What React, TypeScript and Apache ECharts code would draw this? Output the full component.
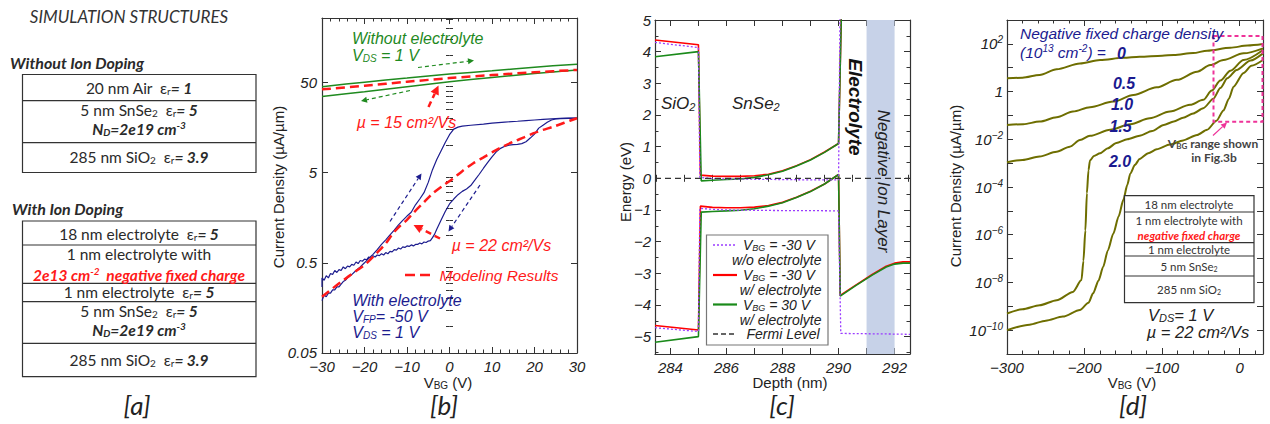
import React, { useEffect, useRef } from 'react';
import * as echarts from 'echarts';

// ---------------- Panel [b] data ----------------
const bV = [-30, -20, -10, 0, 10, 20, 30];
const bGreenUp = [45, 50.5, 56, 62, 67.5, 74, 80];
const bGreenDown = [35, 39.5, 45, 51, 57, 63, 69];
const bModel15 = [42, 46, 51, 56, 60.5, 65, 69];

const bFwd: [number, number][] = [
  [-30, 0.19], [-29.5, 0.22], [-29, 0.21], [-28.5, 0.23], [-28, 0.23], [-27.5, 0.25], [-27, 0.25], [-26.5, 0.27],
  [-26, 0.27], [-25.5, 0.29], [-25, 0.31], [-24.5, 0.32], [-24, 0.34], [-23, 0.37], [-22, 0.41], [-21, 0.45], [-20, 0.5],
  [-19, 0.56], [-18, 0.62], [-17, 0.7], [-16, 0.8], [-15, 0.9], [-14, 1.02], [-13, 1.15], [-12, 1.32],
  [-11, 1.48], [-10, 1.65], [-9, 1.82], [-8, 2.2], [-7, 2.55], [-6, 3.0], [-5, 3.9], [-4, 5.4], [-3, 7.0],
  [-2, 8.7], [-1, 10.8], [0, 13.2], [1, 15.2], [2, 16.0], [3, 16.4], [5, 16.8], [8, 17.3], [10, 17.7],
  [13, 18.2], [16, 18.6], [18, 18.9], [20, 19.2], [22, 19.5], [24, 19.8], [26, 20.0], [28, 20.1], [30, 20.2],
];
const bBwd: [number, number][] = [
  [30, 20.1], [28, 20.0], [26, 19.9], [25, 19.7], [24, 19.2], [23, 18.1], [22, 16.8], [21, 15.6], [20, 13.4],
  [19, 12.1], [18, 11.0], [17, 10.5], [16, 10.3], [15, 10.25], [14, 10.1], [13, 9.8], [12, 9.3], [11, 8.5],
  [10, 7.5], [9, 6.5], [8, 5.6], [7, 4.8], [6, 4.15], [5, 3.6], [4, 3.3], [3, 3.1], [2, 2.85], [1, 2.55],
  [0, 2.25], [-1, 1.85], [-2, 1.48], [-3, 1.18], [-3.5, 1.04], [-4, 0.95], [-4.5, 0.88], [-5, 0.87],
  [-5.5, 0.84], [-6, 0.85], [-6.5, 0.81], [-7, 0.83], [-7.5, 0.8], [-8, 0.8], [-8.5, 0.77], [-9, 0.79],
  [-9.5, 0.76], [-10, 0.77], [-10.5, 0.74], [-11, 0.75], [-11.5, 0.71], [-12, 0.73], [-12.5, 0.69], [-13, 0.7],
  [-13.5, 0.66], [-14, 0.67], [-14.5, 0.63], [-15, 0.65], [-15.5, 0.61], [-16, 0.63], [-16.5, 0.6], [-17, 0.61],
  [-17.5, 0.58], [-18, 0.6], [-18.5, 0.56], [-19, 0.58], [-19.5, 0.54], [-20, 0.55], [-20.5, 0.52], [-21, 0.53],
  [-21.5, 0.49], [-22, 0.51], [-22.5, 0.47], [-23, 0.48], [-23.5, 0.45], [-24, 0.46], [-24.5, 0.43], [-25, 0.45],
  [-25.5, 0.41], [-26, 0.42], [-26.5, 0.39], [-27, 0.41], [-27.5, 0.37], [-28, 0.38], [-28.5, 0.34], [-29, 0.36],
  [-29.5, 0.32], [-30, 0.34], [-30, 0.27],
];
const bModel22: [number, number][] = [
  [-30, 0.21], [-27.5, 0.26], [-25, 0.32], [-22.5, 0.39], [-19.6, 0.49], [-17, 0.65], [-15, 0.82], [-13.3, 1.06],
  [-11.5, 1.3], [-10, 1.5], [-8.6, 1.77], [-6, 2.35], [-3.9, 2.95], [-1.5, 3.6], [0.9, 4.33], [3, 5.2],
  [5.6, 6.36], [8, 7.4], [10.3, 8.55], [12.5, 9.7], [15, 11.0], [17.5, 12.3], [19.8, 13.7], [22, 14.9],
  [24.5, 16.2], [27, 17.9], [30, 20.1],
];

// ---------------- Panel [c] data (depth nm, energy eV) ----------------
const cRedCB: [number, number][] = [
  [283.45, 4.37], [285.0, 4.22], [285.07, 0.1], [285.5, 0.07], [286, 0.06], [286.5, 0.06], [287, 0.08],
  [287.5, 0.13], [288, 0.24], [288.5, 0.4], [289, 0.59], [289.5, 0.83], [290, 1.1], [290.12, 6],
];
const cRedVB: [number, number][] = [
  [283.45, -4.65], [285.0, -4.79], [285.07, -0.88], [285.5, -0.92], [286, -0.93], [286.5, -0.93], [287, -0.91],
  [287.5, -0.86], [288, -0.76], [288.5, -0.6], [289, -0.41], [289.5, -0.18], [290, 0.12], [290.06, -3.7],
  [290.6, -3.38], [291.2, -3.04], [291.7, -2.78], [292.0, -2.68], [292.3, -2.64], [292.55, -2.64],
];
const cGreenCB: [number, number][] = [
  [283.45, 3.84], [285.0, 4.0], [285.1, -0.08], [285.5, -0.06], [286, -0.04], [286.5, -0.02], [287, 0.03],
  [287.5, 0.11], [288, 0.22], [288.5, 0.39], [289, 0.58], [289.5, 0.82], [290, 1.1], [290.12, 6],
];
const cGreenVB: [number, number][] = [
  [283.45, -5.18], [285.0, -5.0], [285.1, -1.07], [285.5, -1.05], [286, -1.03], [286.5, -1.01], [287, -0.96],
  [287.5, -0.88], [288, -0.77], [288.5, -0.61], [289, -0.42], [289.5, -0.18], [290, 0.12], [290.06, -3.72],
  [290.6, -3.4], [291.2, -3.06], [291.7, -2.8], [292.0, -2.71], [292.3, -2.68], [292.55, -2.68],
];
const cPurpleCB: [number, number][] = [
  [283.45, 4.29], [285.0, 4.13], [285.05, 0.03], [285.5, -0.01], [286, -0.02], [287, -0.03], [288, -0.04],
  [289, -0.05], [290, -0.05], [290.06, 6],
];
const cPurpleVB: [number, number][] = [
  [283.45, -4.72], [285.0, -4.84], [285.05, -0.95], [285.5, -0.98], [286, -1.0], [287, -1.01], [288, -1.02],
  [289, -1.02], [290, -1.03], [290.08, -4.9], [291, -4.91], [292, -4.92], [292.55, -4.93],
];
const cFermi: [number, number][] = [[283.45, 0], [292.55, 0]];
const cBand = [291, 292];

// ---------------- Panel [d] data (V_BG, current density) ----------------
const d00: [number, number][] = [
  [-300, 3.6], [-280, 3.8], [-258, 5.0], [-236, 8.6], [-206, 15], [-180, 21], [-150, 26], [-129, 29],
  [-100, 32], [-85, 34], [-60, 41], [-42, 52], [-12, 69], [10, 85], [30, 98],
];
const d05: [number, number][] = [
  [-300, 0.04], [-279, 0.043], [-258, 0.055], [-236, 0.083], [-215, 0.145], [-193, 0.22], [-163, 0.38],
  [-137, 0.72], [-107, 1.5], [-81, 3.1], [-55, 6.8], [-38, 13], [-21, 21], [5, 40], [30, 65],
];
const d10: [number, number][] = [
  [-300, 1.1e-3], [-280, 1.35e-3], [-258, 1.9e-3], [-236, 3.0e-3], [-219, 4.9e-3], [-206, 9.3e-3], [-193, 0.014],
  [-167, 0.025], [-141, 0.043], [-116, 0.076], [-90, 0.145], [-64, 0.28], [-47, 0.45], [-36, 1.1], [-25, 2.9],
  [-12, 7.5], [5, 21], [30, 55],
];
const d15: [number, number][] = [
  [-300, 5e-10], [-280, 7.5e-10], [-258, 1.1e-9], [-236, 1.8e-9], [-215, 4e-9], [-204, 1.25e-8], [-201.5, 8e-8],
  [-199, 1.5e-6], [-197, 5.5e-5], [-195, 5e-4], [-193, 1.3e-3], [-188, 2e-3], [-180, 2.6e-3], [-170, 4.2e-3],
  [-159, 7e-3], [-145, 0.01], [-129, 0.014], [-113, 0.022], [-98, 0.04], [-85, 0.055], [-73, 0.08], [-60, 0.12],
  [-47, 0.2], [-34, 0.5], [-25, 1.4], [-16, 3.6], [-4, 8], [14, 20], [30, 40],
];
const d20: [number, number][] = [
  [-300, 1e-10], [-271, 1.7e-10], [-250, 2.5e-10], [-228, 3.7e-10], [-206, 7e-10], [-195, 1.4e-9], [-189, 3.5e-9],
  [-182, 1.2e-8], [-176, 4.5e-8], [-170, 2.2e-7], [-163, 1.1e-6], [-156, 6e-6], [-150, 2.9e-5], [-145, 1.2e-4],
  [-141, 3.7e-4], [-135, 8.5e-4], [-129, 1.5e-3], [-118, 2.6e-3], [-107, 3.8e-3], [-90, 6e-3], [-73, 9e-3],
  [-55, 0.015], [-42, 0.025], [-30, 0.06], [-21, 0.16], [-14, 0.5], [-8, 1.6], [5, 6], [15, 12], [30, 21],
];

// ---------------- Tick labels ----------------
const bXLabels = [-30, -20, -10, 0, 10, 20, 30];
const bYLabels = [0.05, 0.5, 5, 50];
const cXLabels = [284, 286, 288, 290, 292];
const cYLabels = [-5, -4, -3, -2, -1, 0, 1, 2, 3, 4, 5];
const dXLabels = [-300, -200, -100, 0];
const dYLabels = [1e-10, 1e-8, 1e-6, 1e-4, 1e-2, 1, 1e2];

const H = "'Liberation Sans', Arial, Helvetica, sans-serif";
const M = "Lato, 'Open Sans', sans-serif";

const seq = (a: number, b: number, s: number) => {
  const r: number[] = [];
  for (let v = a; v <= b + 1e-9; v += s) r.push(Math.round(v * 1000) / 1000);
  return r;
};

function toRich(src: string): string {
  let out = '';
  let buf = '';
  const esc = (s: string) => s.replace(/ /g, '\u00a0');
  const flush = () => {
    if (buf) {
      out += `{n|${esc(buf)}}`;
      buf = '';
    }
  };
  let i = 0;
  while (i < src.length) {
    const c = src[i];
    if ((c === '_' || c === '^' || c === '*') && src[i + 1] === '{') {
      flush();
      const end = src.indexOf('}', i + 2);
      const inner = src.slice(i + 2, end);
      const name = c === '_' ? 's' : c === '^' ? 'p' : 'b';
      out += `{${name}|${esc(inner)}}`;
      i = end + 1;
    } else {
      buf += c;
      i++;
    }
  }
  flush();
  return out;
}

function richStyles(size: number, color: string, italic: boolean, bold: boolean, fam: string) {
  const base: any = {
    fontSize: size,
    fontFamily: fam,
    fontStyle: italic ? 'italic' : 'normal',
    fontWeight: bold ? 'bold' : 'normal',
    fill: color,
  };
  const sm = Math.round(size * 0.64);
  const pad = size - sm + 1;
  return {
    n: { ...base, lineHeight: size },
    b: { ...base, fontWeight: 'bold', fontStyle: 'italic', lineHeight: size },
    s: { ...base, fontSize: sm, lineHeight: sm, padding: [pad, 0, 0, 0] },
    p: { ...base, fontSize: sm, lineHeight: sm, padding: [0, 0, pad, 0] },
  };
}

function tx(x: number, y: number, src: string, o: any = {}) {
  const size = o.size ?? 15;
  const fam = o.fam ?? H;
  const color = o.color ?? '#222';
  return {
    type: 'text',
    x,
    y,
    rotation: o.rot ?? 0,
    z: 50,
    silent: true,
    style: {
      text: toRich(src),
      rich: richStyles(size, color, !!o.italic, !!o.bold, fam),
      fontSize: size,
      fontFamily: fam,
      fontStyle: o.italic ? 'italic' : 'normal',
      fontWeight: o.bold ? 'bold' : 'normal',
      fill: color,
      align: o.align ?? 'left',
      verticalAlign: 'middle',
    },
  };
}

function seg(x1: number, y1: number, x2: number, y2: number, color = '#333', w = 1.2, dash?: number[]) {
  return {
    type: 'line',
    z: 45,
    silent: true,
    shape: { x1, y1, x2, y2 },
    style: { stroke: color, lineWidth: w, lineDash: dash },
  };
}

function box(x: number, y: number, w: number, h: number, stroke = '#333', lw = 1.2, fill = 'none', dash?: number[]) {
  return {
    type: 'rect',
    z: 44,
    silent: true,
    shape: { x, y, width: w, height: h },
    style: { stroke, lineWidth: lw, fill, lineDash: dash },
  };
}

function arrow(x1: number, y1: number, x2: number, y2: number, color: string, w: number, dash?: number[], hl = 7, hw = 3.5) {
  const a = Math.atan2(y2 - y1, x2 - x1);
  const bx = x2 - hl * Math.cos(a);
  const by = y2 - hl * Math.sin(a);
  const px = -Math.sin(a) * hw;
  const py = Math.cos(a) * hw;
  return [
    seg(x1, y1, bx, by, color, w, dash),
    {
      type: 'polygon',
      z: 46,
      silent: true,
      shape: { points: [[x2, y2], [bx + px, by + py], [bx - px, by - py]] },
      style: { fill: color },
    },
  ];
}

function axes(dim: 'x' | 'y', grid: number, cfg: any) {
  const pos = dim === 'x' ? ['bottom', 'top'] : ['left', 'right'];
  const common: any = {
    gridIndex: grid,
    type: cfg.type,
    min: cfg.min,
    max: cfg.max,
    splitLine: { show: false },
    minorTick: { show: false },
    axisPointer: { show: false },
  };
  if (cfg.type === 'log') common.logBase = 10;
  const line = { show: true, onZero: false, lineStyle: { color: '#333', width: 1.2 } };
  const tick = (vals: number[], len: number) => ({
    show: vals.length > 0,
    inside: true,
    length: len,
    customValues: vals,
    lineStyle: { color: '#333', width: 1 },
  });
  return [
    {
      ...common,
      position: pos[0],
      axisLine: line,
      axisTick: tick(cfg.major, 6),
      axisLabel: {
        show: true,
        customValues: cfg.labels,
        formatter: cfg.fmt,
        margin: cfg.margin ?? 5,
        fontFamily: H,
        fontStyle: 'italic',
        fontSize: 15,
        color: '#222',
        rich: cfg.rich,
      },
    },
    { ...common, position: pos[0], axisLine: { show: false }, axisTick: tick(cfg.minor, 3.5), axisLabel: { show: false } },
    { ...common, position: pos[1], axisLine: line, axisTick: tick(cfg.major, 6), axisLabel: { show: false } },
    { ...common, position: pos[1], axisLine: { show: false }, axisTick: tick(cfg.minor, 3.5), axisLabel: { show: false } },
  ];
}

const minus = (v: number) => String(v).replace('-', '\u2212');

function ln(data: any[], ai: number, color: string, width: number, o: any = {}) {
  return {
    type: 'line',
    xAxisIndex: ai,
    yAxisIndex: ai,
    data,
    symbol: 'none',
    showSymbol: false,
    silent: true,
    clip: true,
    z: o.z ?? 2,
    smooth: o.smooth ?? false,
    smoothMonotone: o.mono,
    lineStyle: { color, width, type: o.dash ?? 'solid' },
  };
}

function buildOption() {
  const GREEN = '#1f8a1f';
  const RED = '#ff1a1a';
  const BLUE = '#1c1c8e';
  const NAVY = '#1a1a90';
  const OLIVE = '#6e6e00';
  const PURPLE = '#9a3cff';
  const MAG = '#ee3399';

  const bX = { type: 'value', min: -30, max: 30, labels: bXLabels, major: bXLabels, minor: seq(-30, 30, 2).filter((v) => v % 10 !== 0), fmt: (v: number) => minus(v), margin: 6 };
  const bYMinor = bYLabels.flatMap((b) => [2, 3, 4, 5, 6, 7, 8, 9].map((k) => b * k)).filter((v) => v <= 260);
  const bY = { type: 'log', min: 0.0499, max: 260, labels: bYLabels, major: bYLabels, minor: bYMinor, fmt: (v: number) => String(Number(Number(v).toPrecision(2))), margin: 5 };
  const cX = { type: 'value', min: 283.45, max: 292.55, labels: cXLabels, major: seq(284, 292, 1), minor: seq(283.5, 292.5, 1), fmt: (v: number) => minus(v), margin: 6 };
  const cY = { type: 'value', min: -5.55, max: 5, labels: cYLabels, major: seq(-5, 5, 1), minor: seq(-5.5, 4.5, 1), fmt: (v: number) => minus(Math.round(v)), margin: 4 };
  const dX = { type: 'value', min: -300, max: 30, labels: dXLabels, major: dXLabels, minor: seq(-280, 20, 20).filter((v) => v % 100 !== 0), fmt: (v: number) => minus(v), margin: 6 };
  const dYMajor = seq(-10, 2, 1).map((e) => Math.pow(10, e));
  const dY = {
    type: 'log',
    min: 1e-11,
    max: 1e3,
    labels: dYLabels,
    major: dYMajor,
    minor: [],
    margin: 4,
    fmt: (v: number) => {
      const e = Math.round(Math.log10(v));
      return e === 0 ? '{n|1}' : `{n|10}{p|${e < 0 ? '\u2212' : ''}${Math.abs(e)}}`;
    },
    rich: {
      n: { fontSize: 15, fontStyle: 'italic', fontFamily: H, color: '#222' },
      p: { fontSize: 10, fontStyle: 'italic', fontFamily: H, color: '#222', padding: [0, 0, 8, 0] },
    },
  };

  const series: any[] = [
    // panel b
    ln(bV.map((v, i) => [v, bGreenUp[i]]), 0, GREEN, 1.5, { smooth: 0.3 }),
    ln(bV.map((v, i) => [v, bGreenDown[i]]), 0, GREEN, 1.5, { smooth: 0.3 }),
    ln(bFwd, 0, BLUE, 1.2),
    ln(bBwd, 0, BLUE, 1.2),
    ln(bV.map((v, i) => [v, bModel15[i]]), 0, RED, 2.5, { smooth: 0.3, dash: [9, 5], z: 3 }),
    ln(bModel22, 0, RED, 2.5, { smooth: 0.3, dash: [9, 5], z: 3 }),
    // panel c
    {
      type: 'line',
      xAxisIndex: 4,
      yAxisIndex: 4,
      data: [[283.45, 0]],
      symbol: 'none',
      silent: true,
      z: 1,
      lineStyle: { width: 0 },
      markArea: {
        silent: true,
        itemStyle: { color: '#c7d2e8' },
        data: [[{ xAxis: cBand[0] }, { xAxis: cBand[1] }]],
      },
    },
    ln(cRedCB, 4, '#ff0000', 1.6),
    ln(cRedVB, 4, '#ff0000', 1.6),
    ln(cGreenCB, 4, '#1a8a1a', 1.6, { z: 3 }),
    ln(cGreenVB, 4, '#1a8a1a', 1.6, { z: 3 }),
    ln(cPurpleCB, 4, PURPLE, 1.3, { dash: [2, 2], z: 4 }),
    ln(cPurpleVB, 4, PURPLE, 1.3, { dash: [2, 2], z: 4 }),
    ln(cFermi, 4, '#333', 1.3, { dash: [6, 4], z: 5 }),
    // panel d
    ln(d00, 8, OLIVE, 2, { smooth: 0.3, mono: 'x' }),
    ln(d05, 8, OLIVE, 2, { smooth: 0.3, mono: 'x' }),
    ln(d10, 8, OLIVE, 2, { smooth: 0.3, mono: 'x' }),
    ln(d15, 8, OLIVE, 2, { smooth: 0.25, mono: 'x' }),
    ln(d20, 8, OLIVE, 2, { smooth: 0.25, mono: 'x' }),
  ];

  const A = { fam: M, align: 'center', color: '#2a2a2a', size: 15.5 };
  const AB = { ...A, italic: true, bold: true };
  const LG = { size: 14, italic: true };
  const graphic: any[] = [
    // ----- panel a -----
    tx(129, 16, 'SIMULATION STRUCTURES', { fam: M, size: 17, italic: true, align: 'center', color: '#333' }),
    tx(10, 62, 'Without Ion Doping', { fam: M, size: 16, italic: true, bold: true, color: '#2a2a2a' }),
    box(22.5, 74.5, 233.5, 98),
    seg(22.5, 100.7, 256, 100.7),
    seg(22.5, 142.7, 256, 142.7),
    tx(139, 87.5, '20 nm Air  ε_{r}*{= 1}', A),
    tx(139, 110, '5 nm SnSe_{2}  ε_{r}*{= 5}', A),
    tx(139, 128.5, 'N_{D}=2e19 cm^{-3}', AB),
    tx(139, 157, '285 nm SiO_{2}  ε_{r}*{= 3.9}', A),
    tx(12, 208.5, 'With Ion Doping', { fam: M, size: 16, italic: true, bold: true, color: '#2a2a2a' }),
    box(22.5, 221, 233.5, 155.7),
    seg(22.5, 245, 256, 245),
    seg(22.5, 283.3, 256, 283.3),
    seg(22.5, 301.7, 256, 301.7),
    seg(22.5, 343.3, 256, 343.3),
    tx(139, 233.5, '18 nm electrolyte  ε_{r}*{= 5}', A),
    tx(139, 254, '1 nm electrolyte with', A),
    tx(139, 274.5, '2e13 cm^{-2}  negative fixed charge', { ...AB, color: '#ff1a1a' }),
    tx(139, 292, '1 nm electrolyte  ε_{r}*{= 5}', A),
    tx(139, 311, '5 nm SnSe_{2}  ε_{r}*{= 5}', A),
    tx(139, 329.5, 'N_{D}=2e19 cm^{-3}', AB),
    tx(139, 360, '285 nm SiO_{2}  ε_{r}*{= 3.9}', A),
    tx(137, 405, '[a]', { fam: M, size: 26, italic: true, align: 'center', color: '#222' }),

    // ----- panel b -----
    tx(352, 38.5, 'Without electrolyte', { size: 16, italic: true, color: GREEN }),
    tx(352, 55, 'V_{DS} = 1 V', { size: 16, italic: true, color: GREEN }),
    ...arrow(418, 67.5, 474, 60.5, GREEN, 1.2, [4, 3], 6, 3),
    ...arrow(410, 90.5, 361, 101, GREEN, 1.2, [4, 3], 6, 3),
    ...arrow(428.5, 107, 438.5, 85.5, RED, 2.5, [6, 4], 9, 4.5),
    tx(356.7, 122, 'µ = 15 cm²/Vs', { size: 16, italic: true, color: RED }),
    ...arrow(390, 221.5, 421.5, 173.5, BLUE, 1.2, [4, 3], 6, 3),
    ...arrow(480, 185, 448.5, 231.5, BLUE, 1.2, [4, 3], 6, 3),
    ...arrow(440, 238.5, 413.5, 225, RED, 2.5, [6, 4], 9, 4.5),
    tx(451.7, 245, 'µ = 22 cm²/Vs', { size: 16, italic: true, color: RED }),
    seg(405, 275, 435, 275, RED, 2.5, [10, 5]),
    tx(439.5, 275, 'Modeling Results', { size: 15.5, italic: true, color: RED }),
    tx(352.3, 300, 'With electrolyte', { size: 16, italic: true, color: BLUE }),
    tx(352.3, 316, 'V_{FP}= -50 V', { size: 16, italic: true, color: BLUE }),
    tx(352.3, 332, 'V_{DS} = 1 V', { size: 16, italic: true, color: BLUE }),
    tx(278, 187, 'Current Density (µA/µm)', { size: 15, align: 'center', rot: Math.PI / 2 }),
    tx(448, 382.5, 'V_{BG} (V)', { size: 15, align: 'center' }),
    tx(444, 405, '[b]', { fam: M, size: 26, italic: true, align: 'center', color: '#222' }),

    // ----- panel c -----
    tx(661, 103, 'SiO_{2}', { size: 17, italic: true }),
    tx(732, 103, 'SnSe_{2}', { size: 17, italic: true }),
    tx(855.5, 107, 'Electrolyte', { size: 19, italic: true, bold: true, align: 'center', rot: -Math.PI / 2, color: '#111' }),
    tx(883, 181, 'Negative Ion Layer', { size: 17, italic: true, align: 'center', rot: -Math.PI / 2 }),
    box(706.5, 235, 121.5, 110, '#777', 1.2, '#ffffff'),
    seg(713, 245, 737, 245, PURPLE, 1.5, [2, 2]),
    tx(743, 245, 'V_{BG} = -30 V', LG),
    tx(821.5, 260, 'w/o electrolyte', { ...LG, align: 'right' }),
    seg(713, 275, 737, 275, '#ff0000', 2.2),
    tx(743, 275, 'V_{BG} = -30 V', LG),
    tx(821.5, 290, 'w/ electrolyte', { ...LG, align: 'right' }),
    seg(713, 304.5, 737, 304.5, '#1a8a1a', 2.2),
    tx(743, 304.5, 'V_{BG} = 30 V', LG),
    tx(821.5, 319.5, 'w/ electrolyte', { ...LG, align: 'right' }),
    seg(713, 334, 737, 334, '#333', 1.3, [5, 3]),
    tx(746.5, 334, 'Fermi Level', LG),
    tx(625, 182, 'Energy (eV)', { size: 15, align: 'center', rot: Math.PI / 2 }),
    tx(790, 382.5, 'Depth (nm)', { size: 15, align: 'center' }),
    tx(782, 405, '[c]', { fam: M, size: 26, italic: true, align: 'center', color: '#222' }),

    // ----- panel d -----
    tx(1020, 33.5, 'Negative fixed charge density', { size: 15.5, italic: true, color: NAVY }),
    tx(1020, 52, '(10^{13} cm^{-2}) =', { size: 15.5, italic: true, color: NAVY }),
    tx(1121.5, 53, '0', { size: 16, italic: true, bold: true, color: NAVY, align: 'center' }),
    tx(1124, 83, '0.5', { size: 16, italic: true, bold: true, color: NAVY, align: 'center' }),
    tx(1122, 104.5, '1.0', { size: 16, italic: true, bold: true, color: NAVY, align: 'center' }),
    tx(1120.5, 126, '1.5', { size: 16, italic: true, bold: true, color: NAVY, align: 'center' }),
    tx(1120, 161.5, '2.0', { size: 16, italic: true, bold: true, color: NAVY, align: 'center' }),
    box(1213.5, 36, 49, 85.7, MAG, 2, 'none', [4, 3]),
    ...arrow(1213, 135.5, 1227, 122.5, MAG, 1.2, undefined, 6, 3),
    tx(1213, 143.3, 'V_{BG} range shown', { fam: M, size: 12, bold: true, color: '#444', align: 'center' }),
    tx(1214, 157, 'in Fig.3b', { fam: M, size: 12, bold: true, color: '#444', align: 'center' }),
    box(1124.5, 195.7, 129.5, 107, '#333', 1.2, '#ffffff'),
    seg(1124.5, 212, 1254, 212),
    seg(1124.5, 242.7, 1254, 242.7),
    seg(1124.5, 256, 1254, 256),
    seg(1124.5, 276, 1254, 276),
    tx(1189, 204, '18 nm electrolyte', { fam: M, size: 11.5, align: 'center', color: '#333' }),
    tx(1189, 220, '1 nm electrolyte with', { fam: M, size: 11.5, align: 'center', color: '#333' }),
    tx(1189, 235.5, 'negative fixed charge', { fam: M, size: 11.5, align: 'center', italic: true, bold: true, color: '#ff1a1a' }),
    tx(1189, 249.5, '1 nm electrolyte', { fam: M, size: 11.5, align: 'center', color: '#333' }),
    tx(1189, 266, '5 nm SnSe_{2}', { fam: M, size: 11.5, align: 'center', color: '#333' }),
    tx(1189, 289.5, '285 nm SiO_{2}', { fam: M, size: 11.5, align: 'center', color: '#333' }),
    tx(1148, 315, 'V_{DS}= 1 V', { size: 16.5, italic: true }),
    tx(1146.7, 332, 'µ = 22 cm²/Vs', { size: 16.5, italic: true }),
    tx(955, 186, 'Current Density (µA/µm)', { size: 15, align: 'center', rot: Math.PI / 2 }),
    tx(1132, 382.5, 'V_{BG} (V)', { size: 15, align: 'center' }),
    tx(1133, 405, '[d]', { fam: M, size: 26, italic: true, align: 'center', color: '#222' }),
  ];

  return {
    animation: false,
    backgroundColor: '#ffffff',
    grid: [
      { left: 322, top: 18, width: 255, height: 335, outerBoundsMode: 'none' },
      { left: 655, top: 20, width: 255, height: 334, outerBoundsMode: 'none' },
      { left: 1007, top: 20, width: 256, height: 334, outerBoundsMode: 'none' },
    ],
    xAxis: [...axes('x', 0, bX), ...axes('x', 1, cX), ...axes('x', 2, dX)],
    yAxis: [...axes('y', 0, bY), ...axes('y', 1, cY), ...axes('y', 2, dY)],
    series,
    graphic: { elements: graphic },
  };
}

export default function App() {
  const ref = useRef<HTMLDivElement>(null);
  useEffect(() => {
    const chart = echarts.init(ref.current as HTMLDivElement, null, { renderer: 'svg' });
    chart.setOption(buildOption() as any);
    return () => chart.dispose();
  }, []);
  return (
    <div
      ref={ref}
      style={{ position: 'fixed', left: 0, top: 0, width: 1270, height: 424, background: '#ffffff' }}
    />
  );
}
